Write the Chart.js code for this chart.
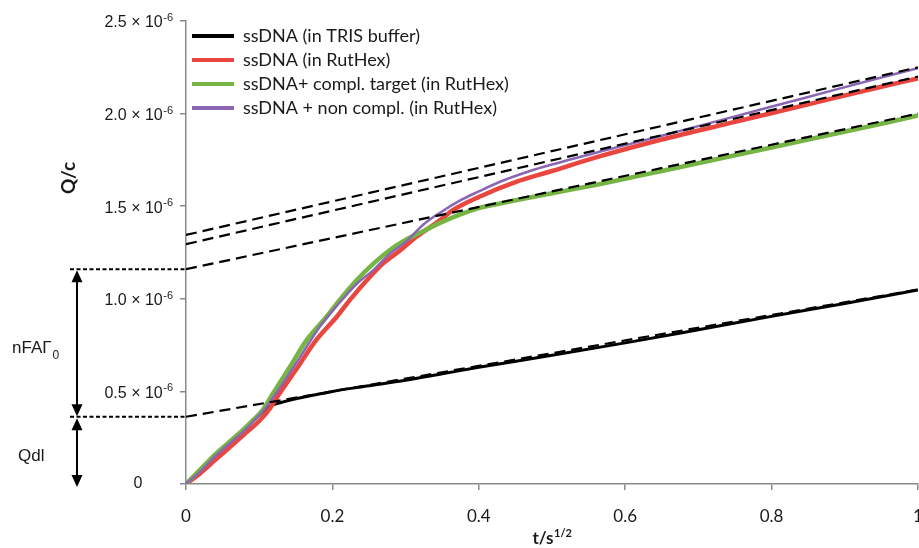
<!DOCTYPE html>
<html>
<head>
<meta charset="utf-8">
<script src="https://cdn.jsdelivr.net/npm/chart.js@4.4.0/dist/chart.umd.min.js"></script>
<style>
    html, body { margin: 0; padding: 0; background: #fff; }
    #wrap { width: 919px; height: 548px; }
</style>
</head>
<body>
<div id="wrap"><canvas id="chartQc" width="919" height="548"></canvas></div>
<script>
// Q/c values in units of 1e-6, x in s^1/2
const seriesLabels = [
    'ssDNA (in TRIS buffer)',
    'ssDNA (in RutHex)',
    'ssDNA+ compl. target (in RutHex)',
    'ssDNA + non compl. (in RutHex)'
];

const trisX = [0, 0.02, 0.04, 0.06, 0.08, 0.1, 0.115, 0.13, 0.15, 0.175, 0.2, 0.25, 0.3, 0.35, 0.4, 0.5, 0.6, 0.7, 0.8, 0.9, 1.0];
const trisY = [0, 0.07, 0.15, 0.22, 0.30, 0.37, 0.42, 0.44, 0.46, 0.48, 0.50, 0.53, 0.56, 0.595, 0.63, 0.695, 0.762, 0.833, 0.905, 0.975, 1.048];

const rutX = [0, 0.02, 0.04, 0.06, 0.08, 0.1, 0.115, 0.128, 0.153, 0.178, 0.206, 0.224, 0.247, 0.269, 0.292, 0.315, 0.347, 0.365, 0.4, 0.45, 0.5, 0.566, 0.65, 0.75, 0.85, 0.95, 1.0];
const rutY = [0, 0.06, 0.13, 0.2, 0.27, 0.34, 0.41, 0.49, 0.633, 0.778, 0.903, 0.994, 1.10, 1.19, 1.26, 1.335, 1.425, 1.48, 1.55, 1.63, 1.69, 1.77, 1.86, 1.955, 2.05, 2.145, 2.19];

const complX = [0, 0.02, 0.04, 0.06, 0.08, 0.092, 0.105, 0.119, 0.142, 0.165, 0.192, 0.21, 0.233, 0.256, 0.279, 0.301, 0.324, 0.347, 0.374, 0.4, 0.429, 0.5, 0.566, 0.65, 0.75, 0.85, 0.95, 1.0];
const complY = [0, 0.08, 0.16, 0.23, 0.30, 0.346, 0.40, 0.49, 0.633, 0.778, 0.903, 0.994, 1.10, 1.19, 1.265, 1.32, 1.365, 1.41, 1.455, 1.49, 1.515, 1.57, 1.62, 1.69, 1.775, 1.86, 1.945, 1.99];

const nonComplX = [0, 0.02, 0.04, 0.06, 0.08, 0.095, 0.11, 0.13, 0.155, 0.183, 0.21, 0.233, 0.256, 0.279, 0.301, 0.324, 0.347, 0.374, 0.4, 0.429, 0.47, 0.5, 0.566, 0.65, 0.75, 0.85, 0.95, 1.0];
const nonComplY = [0, 0.07, 0.15, 0.22, 0.29, 0.35, 0.417, 0.53, 0.68, 0.85, 0.98, 1.08, 1.155, 1.245, 1.31, 1.40, 1.465, 1.53, 1.58, 1.632, 1.69, 1.725, 1.795, 1.88, 1.985, 2.09, 2.195, 2.245];

// linear fits (dashed)
const fitX = [0, 1];
const fitTris = [0.363, 1.05];
const fitRut = [1.295, 2.20];
const fitCompl = [1.16, 2.0];
const fitNonCompl = [1.345, 2.25];

const xTicks = [0, 0.2, 0.4, 0.6, 0.8, 1];
const xTickLabels = ['0', '0.2', '0.4', '0.6', '0.8', '1'];
const yTicks = [0, 0.5, 1, 1.5, 2, 2.5];
const yTickLabels = ['0', '0.5', '1.0', '1.5', '2.0', '2.5'];

function pts(xs, ys) {
    return xs.map((x, i) => ({x: x, y: ys[i]}));
}

function solid(label, xs, ys, color, width, order) {
    return {
        label: label,
        data: pts(xs, ys),
        borderColor: color,
        backgroundColor: color,
        borderWidth: width,
        pointRadius: 0,
        cubicInterpolationMode: 'monotone',
        fill: false,
        order: order
    };
}

function dashed(ys) {
    return {
        label: 'fit',
        data: pts(fitX, ys),
        borderColor: '#000',
        backgroundColor: '#000',
        borderWidth: 2.2,
        borderDash: [11, 6],
        pointRadius: 0,
        fill: false,
        order: 0
    };
}

const textColor = '#1a1a1a';

// legend in 'chartArea' mode gets top = 0, move it into the plot
const legendShift = {
    id: 'legendShift',
    afterLayout(chart) {
        const lg = chart.legend;
        if (!lg) return;
        const h = lg.bottom - lg.top;
        lg.top = chart.chartArea.top;
        lg.bottom = lg.top + h;
    }
};

const extras = {
    id: 'extras',
    afterDraw(chart) {
        const ctx = chart.ctx;
        const xs = chart.scales.x;
        const ys = chart.scales.y;
        const area = chart.chartArea;
        ctx.save();
        ctx.fillStyle = textColor;
        ctx.textBaseline = 'middle';

        // y tick labels  "n × 10^-6"
        const labelRight = area.left - 13;
        yTicks.forEach((v, i) => {
            const py = ys.getPixelForValue(v);
            if (v === 0) {
                ctx.font = '16px "Liberation Sans"';
                ctx.textAlign = 'center';
                ctx.fillText('0', area.left - 48, py);
                return;
            }
            ctx.textAlign = 'right';
            ctx.font = '11px "Liberation Sans"';
            ctx.fillText('-6', labelRight, py - 3);
            const w = ctx.measureText('-6').width;
            ctx.font = '16px "Liberation Sans"';
            ctx.fillText(yTickLabels[i] + ' \u00d7 10', labelRight - w - 0.5, py + 2);
        });

        // x tick labels
        ctx.font = '17px Lato';
        ctx.textAlign = 'center';
        xTicks.forEach((v, i) => {
            ctx.fillText(xTickLabels[i], xs.getPixelForValue(v), area.bottom + 33);
        });

        // x title  t/s^1/2
        const cx = (area.left + area.right) / 2;
        ctx.font = 'bold 17px Lato';
        const wMain = ctx.measureText('t/s').width;
        ctx.font = 'bold 11px Lato';
        const wSup = ctx.measureText('1/2').width;
        const startX = cx - (wMain + wSup) / 2;
        ctx.textAlign = 'left';
        ctx.font = 'bold 17px Lato';
        ctx.fillText('t/s', startX, area.bottom + 55);
        ctx.font = 'bold 11px Lato';
        ctx.fillText('1/2', startX + wMain + 0.5, area.bottom + 49);

        // y title
        ctx.save();
        ctx.translate(69, 178);
        ctx.rotate(-Math.PI / 2);
        ctx.textAlign = 'center';
        ctx.font = 'bold 19px Lato';
        ctx.fillText('Q/c', 0, 0);
        ctx.restore();

        // annotation: intercept lines and arrows
        const yTop = ys.getPixelForValue(fitCompl[0]);
        const yMid = ys.getPixelForValue(fitTris[0]);
        const yZero = ys.getPixelForValue(0);
        ctx.strokeStyle = '#000';
        ctx.lineWidth = 2;
        ctx.setLineDash([4, 2.5]);
        [yTop, yMid].forEach(py => {
            ctx.beginPath();
            ctx.moveTo(70, py);
            ctx.lineTo(area.left, py);
            ctx.stroke();
        });
        ctx.setLineDash([]);

        const ax = 77;
        function head(tipY, dir) {
            ctx.beginPath();
            ctx.moveTo(ax, tipY);
            ctx.lineTo(ax - 5.5, tipY - dir * 12);
            ctx.lineTo(ax + 5.5, tipY - dir * 12);
            ctx.closePath();
            ctx.fill();
        }
        ctx.fillStyle = '#000';
        ctx.lineWidth = 2;
        ctx.beginPath();
        ctx.moveTo(ax, yTop + 6);
        ctx.lineTo(ax, yMid - 6);
        ctx.moveTo(ax, yMid + 8);
        ctx.lineTo(ax, yZero - 2);
        ctx.stroke();
        head(yTop + 1, -1);
        head(yMid - 0.5, 1);
        head(yMid + 1.5, -1);
        head(yZero + 3, 1);

        // annotation labels
        ctx.fillStyle = textColor;
        ctx.textAlign = 'left';
        ctx.font = '17px "Liberation Sans"';
        ctx.fillText('nFA\u0393', 12, 348);
        const wn = ctx.measureText('nFA\u0393').width;
        ctx.font = '12px "Liberation Sans"';
        ctx.fillText('0', 12 + wn + 1, 356);
        ctx.font = '17px "Liberation Sans"';
        ctx.fillText('Qdl', 18, 456);

        ctx.restore();
    }
};

const ctx = document.getElementById('chartQc').getContext('2d');
const chartQc = new Chart(ctx, {
    type: 'line',
    data: {
        datasets: [
            solid(seriesLabels[0], trisX, trisY, '#000000', 3, 4),
            solid(seriesLabels[1], rutX, rutY, '#e8463f', 4.5, 3),
            solid(seriesLabels[2], complX, complY, '#76b543', 4.5, 2),
            solid(seriesLabels[3], nonComplX, nonComplY, '#8a66b4', 2.5, 1),
            dashed(fitTris),
            dashed(fitRut),
            dashed(fitCompl),
            dashed(fitNonCompl)
        ]
    },
    options: {
        responsive: false,
        animation: false,
        devicePixelRatio: 1,
        layout: {
            padding: {left: 180, top: 21, right: 1, bottom: 58}
        },
        scales: {
            x: {
                type: 'linear',
                min: 0,
                max: 1,
                ticks: {display: false, stepSize: 0.2},
                grid: {drawOnChartArea: false, drawTicks: true, tickLength: 6, color: '#8a8a8a', lineWidth: 1.5},
                border: {color: '#8a8a8a', width: 1.5}
            },
            y: {
                type: 'linear',
                min: 0,
                max: 2.5,
                ticks: {display: false, stepSize: 0.5},
                grid: {drawOnChartArea: false, drawTicks: true, tickLength: 6, color: '#8a8a8a', lineWidth: 1.5},
                border: {color: '#8a8a8a', width: 1.5}
            }
        },
        plugins: {
            legend: {
                position: 'chartArea',
                align: 'start',
                labels: {
                    boxWidth: 42,
                    boxHeight: 4,
                    padding: 6,
                    color: textColor,
                    font: {family: 'Lato', size: 18},
                    filter: item => item.datasetIndex < 4,
                    sort: (a, b) => a.datasetIndex - b.datasetIndex,
                    generateLabels: function(chart) {
                        return Chart.defaults.plugins.legend.labels.generateLabels(chart).map(l => {
                            l.lineWidth = 0;
                            l.fillStyle = l.strokeStyle;
                            l.lineDash = [];
                            return l;
                        });
                    }
                }
            },
            tooltip: {enabled: false}
        }
    },
    plugins: [legendShift, extras]
});
</script>
</body>
</html>
